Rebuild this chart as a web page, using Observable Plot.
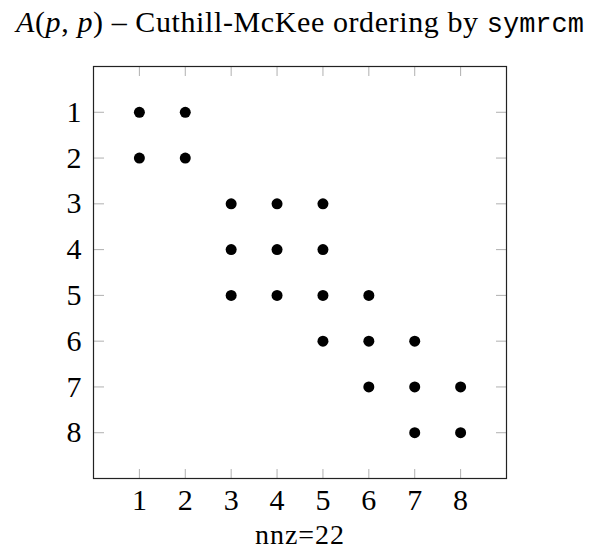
<!DOCTYPE html>
<html>
<head>
<meta charset="utf-8">
<script src="https://cdn.jsdelivr.net/npm/d3@7"></script>
<script src="https://cdn.jsdelivr.net/npm/@observablehq/plot@0.6"></script>
<style>
  html, body { margin: 0; padding: 0; background: #fff; }
  #wrap { position: relative; width: 600px; height: 557px; }
  #title { position: absolute; left: 0; top: 7px; width: 600px; text-align: center; line-height: 30px;
           font-family: "Liberation Serif", serif; font-size: 30px; letter-spacing: 0.6px; color: #000; white-space: nowrap; }
  #title .m { font-family: "Liberation Mono", monospace; font-size: 27px; letter-spacing: 0; }
  #chart { position: absolute; left: 0; top: 0; }
</style>
</head>
<body>
<div id="wrap">
  <div id="chart"></div>
  <div id="title"><i>A</i>(<i>p</i>, <i>p</i>) – Cuthill-McKee ordering by <span class="m">symrcm</span></div>
</div>
<script>
// Nonzero pattern (row, column) of the reordered matrix
const rows = [1, 1, 2, 2, 3, 3, 3, 4, 4, 4, 5, 5, 5, 5, 6, 6, 6, 7, 7, 7, 8, 8];
const cols = [1, 2, 1, 2, 3, 4, 5, 3, 4, 5, 3, 4, 5, 6, 5, 6, 7, 6, 7, 8, 7, 8];
const tickValues = [1, 2, 3, 4, 5, 6, 7, 8];
const xLabel = "nnz=22";

const data = rows.map((r, i) => ({row: r, col: cols[i]}));

const font = "Liberation Serif, serif";
const tickColor = "#b0b0b0";
const chart = Plot.plot({
  width: 600,
  height: 557,
  marginLeft: 93,
  marginRight: 94,
  marginTop: 66,
  marginBottom: 79,
  style: {fontFamily: font, fontSize: "30px", color: "#000", background: "#fff"},
  x: {domain: [0, 9]},
  y: {domain: [0, 9], reverse: true},
  marks: [
    // inward tick marks (gray) on all four sides
    Plot.axisX(tickValues, {anchor: "top", frameAnchor: "bottom", tickSize: 10, text: null, label: null, stroke: tickColor}),
    Plot.axisX(tickValues, {anchor: "bottom", frameAnchor: "top", tickSize: 10, text: null, label: null, stroke: tickColor}),
    Plot.axisY(tickValues, {anchor: "right", frameAnchor: "left", tickSize: 10, text: null, label: null, stroke: tickColor}),
    Plot.axisY(tickValues, {anchor: "left", frameAnchor: "right", tickSize: 10, text: null, label: null, stroke: tickColor}),
    // tick labels
    Plot.axisX(tickValues, {anchor: "bottom", tickSize: 0, tickPadding: 10, label: null, fontSize: 30}),
    Plot.axisY(tickValues, {anchor: "left", tickSize: 0, tickPadding: 12, label: null, fontSize: 30}),
    Plot.frame({stroke: "#222", strokeWidth: 1.2}),
    Plot.dot(data, {x: "col", y: "row", r: 5.5, fill: "#000", stroke: null}),
    Plot.text([xLabel], {frameAnchor: "bottom", dy: 65, fontSize: 28, fill: "#000"})
  ]
});
d3.select(chart).selectAll('g[aria-label="text"] text').attr("letter-spacing", "1px");
document.getElementById("chart").appendChild(chart);
</script>
</body>
</html>
